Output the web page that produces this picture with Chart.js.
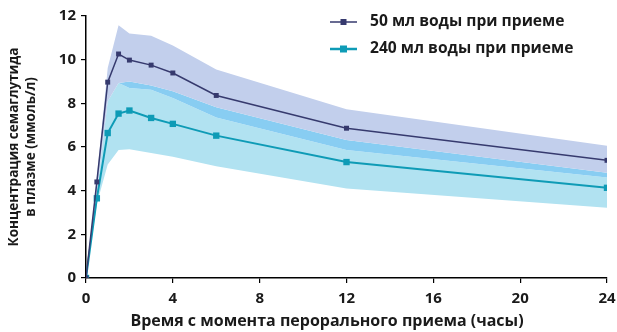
<!DOCTYPE html>
<html lang="ru">
<head>
  <meta charset="UTF-8">
  <title>Концентрация семаглутида в плазме</title>
  <script src="https://cdn.jsdelivr.net/npm/chart.js"></script>
  <style>
    html, body { margin: 0; padding: 0; background: #fff; overflow: hidden; }
    canvas { display: block; }
  </style>
</head>
<body>
  <canvas id="grafico" width="617" height="332"></canvas>
  <script>
    // tempo (ore) dei prelievi
    const ore = [0, 0.5, 1, 1.5, 2, 3, 4, 6, 12, 24];
    // medie
    const acqua50 = [0, 4.4, 8.97, 10.26, 9.98, 9.75, 9.39, 8.36, 6.86, 5.39];
    const acqua240 = [0, 3.65, 6.64, 7.53, 7.67, 7.33, 7.06, 6.52, 5.31, 4.13];
    // bande (limiti superiori / inferiori)
    const sup50 = [0, 4.6, 9.62, 11.58, 11.2, 11.1, 10.65, 9.55, 7.73, 6.06];
    const inf50 = [0, 3.9, 8.1, 8.93, 8.7, 8.62, 8.24, 7.35, 5.86, 4.6];
    const sup240 = [0, 3.9, 8.1, 8.93, 9.0, 8.82, 8.55, 7.82, 6.32, 4.82];
    const inf240 = [0, 3.4, 5.2, 5.86, 5.9, 5.72, 5.55, 5.12, 4.1, 3.22];

    const tickX = [0, 4, 8, 12, 16, 20, 24];
    const tickY = [0, 2, 4, 6, 8, 10, 12];
    const etichette = ['50 мл воды при приеме', '240 мл воды при приеме'];
    const titoloX = 'Время с момента перорального приема (часы)';

    const punti = arr => arr.map((v, i) => ({ x: ore[i], y: v }));
    const FONT = '"Open Sans", sans-serif';

    const blu = '#363a6e';
    const turchese = '#0e9bb6';

    // legenda e titolo asse x disegnati a mano
    const legendaPlugin = {
      id: 'legenda',
      afterDraw(chart) {
        const ctx = chart.ctx;
        const righe = [
          { y: 22, colore: blu, lw: 1.5, m: 6, testo: etichette[0] },
          { y: 49, colore: turchese, lw: 2.5, m: 7, testo: etichette[1] }
        ];
        ctx.save();
        righe.forEach(r => {
          ctx.strokeStyle = r.colore;
          ctx.lineWidth = r.lw;
          ctx.beginPath();
          ctx.moveTo(330, r.y);
          ctx.lineTo(357, r.y);
          ctx.stroke();
          ctx.fillStyle = r.colore;
          ctx.fillRect(343.5 - r.m / 2, r.y - r.m / 2, r.m, r.m);
          ctx.fillStyle = '#1a1a1a';
          ctx.font = 'bold 15.6px ' + FONT;
          ctx.textBaseline = 'middle';
          ctx.textAlign = 'left';
          ctx.fillText(r.testo, 370, r.y);
        });
        // titolo asse x, un po' a sinistra del centro come nell'originale
        ctx.font = 'bold 16px ' + FONT;
        ctx.textAlign = 'center';
        ctx.fillText(titoloX, 327, 321);
        ctx.restore();
      }
    };

    const ctx = document.getElementById('grafico').getContext('2d');
    const chart = new Chart(ctx, {
      type: 'line',
      data: {
        datasets: [
          {
            label: etichette[0],
            data: punti(acqua50),
            borderColor: blu,
            backgroundColor: blu,
            borderWidth: 1.5,
            pointStyle: 'rect',
            pointRadius: 3.5,
            pointBorderWidth: 0,
            fill: false
          },
          {
            label: etichette[1],
            data: punti(acqua240),
            borderColor: turchese,
            backgroundColor: turchese,
            borderWidth: 2,
            pointStyle: 'rect',
            pointRadius: 4.5,
            pointBorderWidth: 0,
            fill: false
          },
          { data: punti(sup50), borderWidth: 0, pointRadius: 0, fill: '+1', backgroundColor: '#c2cfec' },
          { data: punti(sup240), borderWidth: 0, pointRadius: 0, fill: '+1', backgroundColor: '#88cdf2' },
          { data: punti(inf50), borderWidth: 0, pointRadius: 0, fill: '+1', backgroundColor: '#b1e2f1' },
          { data: punti(inf240), borderWidth: 0, pointRadius: 0, fill: false }
        ]
      },
      options: {
        responsive: false,
        animation: false,
        layout: { padding: { top: 16, right: 10, left: 0, bottom: 0 } },
        plugins: {
          legend: { display: false },
          tooltip: { enabled: false }
        },
        scales: {
          x: {
            type: 'linear',
            min: 0,
            max: 24,
            afterFit: s => { s.height = 54; s.paddingRight = 0; s.paddingLeft = 0; },
            afterBuildTicks: s => { s.ticks = tickX.map(v => ({ value: v })); },
            border: { color: '#000', width: 1.5 },
            grid: { drawOnChartArea: false, color: '#000', lineWidth: 1.2, tickLength: 5 },
            ticks: { color: '#1a1a1a', padding: 7, font: { family: FONT, size: 15, weight: 'bold' } },
            title: { display: false }
          },
          y: {
            min: 0,
            max: 12,
            afterFit: s => { s.width = 86; s.paddingTop = 0; s.paddingBottom = 0; },
            afterBuildTicks: s => { s.ticks = tickY.map(v => ({ value: v })); },
            border: { color: '#000', width: 1.5 },
            grid: { drawOnChartArea: false, color: '#000', lineWidth: 1.2, tickLength: 5 },
            ticks: { color: '#1a1a1a', padding: 5, font: { family: FONT, size: 15, weight: 'bold' } },
            title: {
              display: true,
              text: ['Концентрация семаглутида', 'в плазме (ммоль/л)'],
              color: '#1a1a1a',
              padding: { top: 5, bottom: 0 },
              font: { family: FONT, size: 13.5, weight: 'bold', lineHeight: 1.3 }
            }
          }
        }
      },
      plugins: [legendaPlugin]
    });
  </script>
</body>
</html>
